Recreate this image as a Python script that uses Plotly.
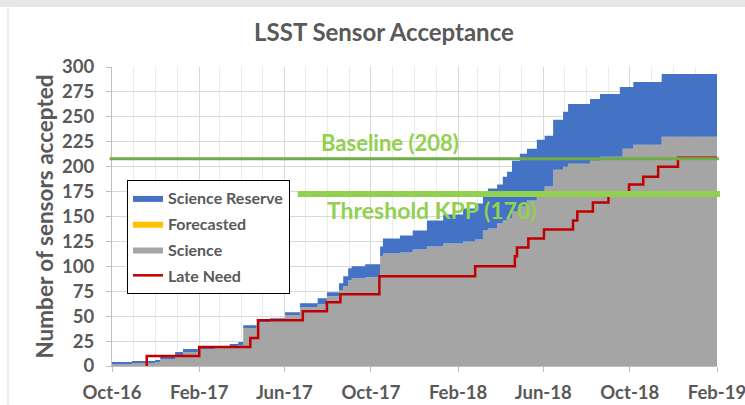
import plotly.graph_objects as go

# ---- data ----
acc_dates = ["2016-10-01", "2016-10-29", "2016-12-01", "2016-12-08", "2016-12-29",
             "2017-01-09", "2017-01-30", "2017-02-23", "2017-03-16", "2017-03-28",
             "2017-04-04", "2017-04-23", "2017-05-12", "2017-06-02", "2017-06-23",
             "2017-07-18", "2017-07-31", "2017-08-17", "2017-08-23", "2017-08-30",
             "2017-09-04", "2017-09-23", "2017-10-14", "2017-10-18", "2017-11-11",
             "2017-11-29", "2017-12-19", "2018-01-11", "2018-02-08", "2018-02-25",
             "2018-03-08", "2018-03-15", "2018-03-28", "2018-04-05", "2018-04-11",
             "2018-04-18", "2018-04-29", "2018-05-09", "2018-05-23", "2018-06-03",
             "2018-06-15", "2018-06-29", "2018-07-06", "2018-08-06", "2018-08-20",
             "2018-09-17", "2018-09-21", "2018-10-06", "2018-11-15", "2019-02-01"]
total_accepted = [4, 5, 6, 9, 14, 17, 19, 20, 22, 24,
                  41, 47, 48, 54, 63, 68, 74, 83, 90, 98,
                  100, 102, 120, 128, 131, 136, 146, 152, 158, 163,
                  170, 178, 182, 190, 195, 206, 213, 218, 227, 231,
                  247, 255, 263, 268, 273, 280, 280, 285, 293, 293]
science = [2, 3, 4, 7, 11, 14, 17, 18, 19, 21,
           38, 44, 45, 51, 59, 62, 70, 76, 80, 86,
           88, 89, 110, 113, 114, 117, 120, 123, 125, 127,
           136, 138, 143, 146, 148, 155, 160, 166, 175, 180,
           197, 200, 203, 206, 210, 210, 218, 222, 230, 230]

late_dates = ["2016-11-19", "2016-11-19", "2017-02-01", "2017-04-14", "2017-04-25",
              "2017-06-27", "2017-07-31", "2017-08-19", "2017-10-13", "2018-02-25",
              "2018-04-22", "2018-04-25", "2018-05-11", "2018-06-02", "2018-07-13",
              "2018-07-19", "2018-08-10", "2018-09-01", "2018-09-30", "2018-10-20",
              "2018-11-10", "2018-12-08", "2019-02-01"]
late_need = [0, 10, 19, 28, 46, 55, 64, 72, 90, 100,
             110, 119, 128, 137, 146, 155, 164, 172, 182, 190,
             200, 209, 209]

baseline = 208
threshold_kpp = 170

FONT = "Lato"
TXT = "#595959"
GREEN_LIGHT = "#92D050"
GREEN_DARK = "#70AD47"

fig = go.Figure()

fig.add_trace(go.Scatter(
    x=acc_dates, y=science, name="Science", mode="lines", line_shape="hv",
    line=dict(width=0, color="#A5A5A5"), fill="tozeroy", fillcolor="#A5A5A5",
    legendrank=3, legendgroup="c", hoverinfo="skip"))
fig.add_trace(go.Scatter(
    x=acc_dates, y=total_accepted, name="Science Reserve", mode="lines", line_shape="hv",
    line=dict(width=0, color="#4472C4"), fill="tonexty", fillcolor="#4472C4",
    legendrank=1, legendgroup="a", hoverinfo="skip"))
fig.add_trace(go.Scatter(
    x=[acc_dates[0]], y=[0], name="Forecasted", mode="lines",
    line=dict(width=0, color="#FFC000"), fill="tozeroy", fillcolor="#FFC000",
    legendrank=2, legendgroup="b", hoverinfo="skip"))
fig.add_trace(go.Scatter(
    x=late_dates, y=late_need, name="Late Need", mode="lines", line_shape="hv",
    line=dict(width=2.5, color="#C00000"), legendrank=4, legendgroup="d",
    hoverinfo="skip"))

shapes = [
    dict(type="rect", xref="paper", yref="paper", x0=-0.2, x1=1.1, y0=1.2007, y1=1.25,
         fillcolor="#E7E7E7", line=dict(width=0), layer="above"),
    dict(type="line", xref="paper", yref="paper", x0=-0.1719, x1=-0.1719, y0=-0.14, y1=1.2007,
         line=dict(color="#D9D9D9", width=1), layer="above"),
    dict(type="line", xref="paper", yref="y", x0=-0.004, x1=1.003, y0=baseline, y1=baseline,
         line=dict(color=GREEN_DARK, width=3)),
    dict(type="line", xref="paper", yref="y", x0=0.307, x1=1.005, y0=threshold_kpp + 2.5,
         y1=threshold_kpp + 2.5, line=dict(color=GREEN_LIGHT, width=6)),
]

annotations = [
    dict(text="Baseline (208)", xref="paper", yref="paper", x=0.4595, y=0.749,
         xanchor="center", yanchor="middle", showarrow=False,
         font=dict(family=FONT, size=22, color=GREEN_LIGHT, weight="bold")),
    dict(text="Threshold KPP (170)", xref="paper", yref="paper", x=0.529, y=0.5217,
         xanchor="center", yanchor="middle", showarrow=False,
         font=dict(family=FONT, size=23, color=GREEN_LIGHT, weight="bold")),
]

fig.update_layout(
    width=745, height=405,
    margin=dict(l=112, r=28, t=67, b=39, autoexpand=False),
    paper_bgcolor="white", plot_bgcolor="white",
    title=dict(text="LSST Sensor Acceptance", x=0.5154, xanchor="center",
               y=1 - 33 / 405, yanchor="middle", yref="container", automargin=False,
               font=dict(family=FONT, size=24, color=TXT, weight="bold")),
    shapes=shapes, annotations=annotations,
    showlegend=True,
    legend=dict(x=0.0248, y=0.622, xanchor="left", yanchor="top",
                bordercolor="#000000", borderwidth=1, bgcolor="white",
                font=dict(family=FONT, size=16, color=TXT, weight="bold"),
                itemwidth=30, traceorder="grouped", tracegroupgap=2),
    xaxis=dict(
        type="date", range=["2016-10-01", "2019-02-01"],
        tick0="2016-10-01", dtick="M4", tickformat="%b-%y",
        tickfont=dict(family=FONT, size=18.5, color=TXT, weight="bold"),
        ticklabelstandoff=5, ticklabeloverflow="allow",
        showgrid=True, gridcolor="#D9D9D9", gridwidth=1,
        minor=dict(dtick="M1", showgrid=True, gridcolor="#EBEBEB", gridwidth=1),
        showline=True, linecolor="#BFBFBF", linewidth=1,
        ticks="outside", ticklen=5, tickcolor="#BFBFBF",
        zeroline=False, automargin=False),
    yaxis=dict(
        range=[0, 300], tick0=0, dtick=25,
        tickfont=dict(family=FONT, size=18.5, color=TXT, weight="bold"),
        ticklabelstandoff=8,
        showgrid=True, gridcolor="#D9D9D9", gridwidth=1,
        showline=True, linecolor="#BFBFBF", linewidth=1,
        ticks="outside", ticklen=5, tickcolor="#BFBFBF",
        zeroline=False,
        title=dict(text="Number of sensors accepted", standoff=2,
                   font=dict(family=FONT, size=22.5, color=TXT, weight="bold")),
        automargin=False),
)

fig.write_html("out.html", config={"displayModeBar": False},
               post_script="document.body.style.margin='0px';")
